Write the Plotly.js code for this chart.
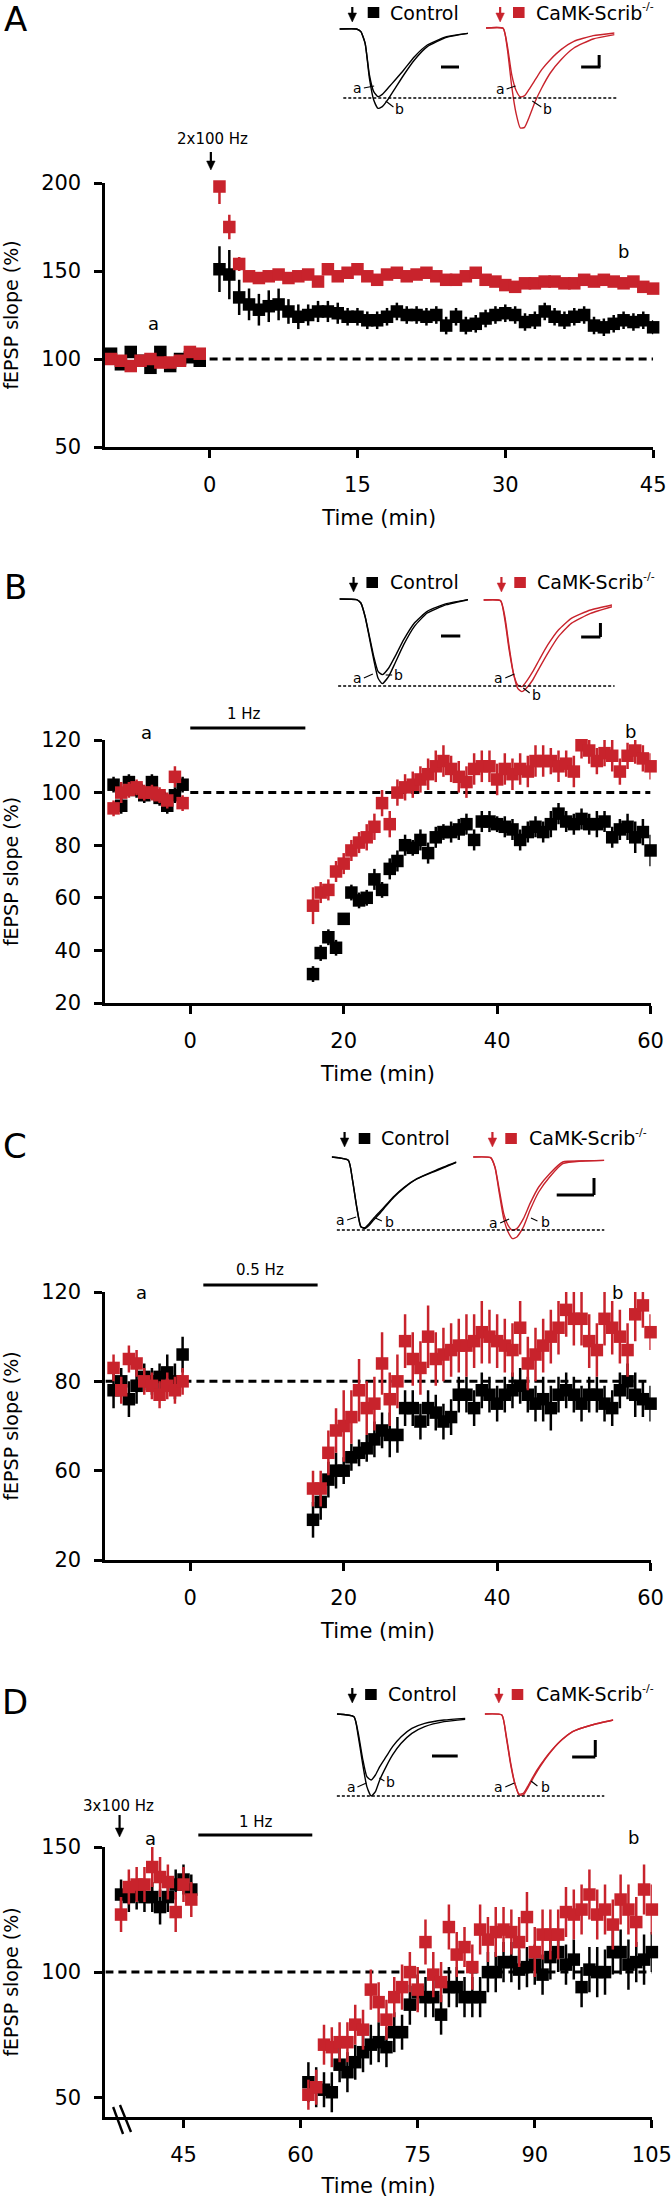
<!DOCTYPE html>
<html><head><meta charset="utf-8">
<script src="https://cdn.plot.ly/plotly-3.0.1.min.js"></script>
<style>html,body{margin:0;padding:0;background:#fff}</style>
</head><body><div id="chart" style="width:672px;height:2198px"></div>
<script>
// ---------------- DATA ----------------
// Panel A: 2x100 Hz LTP
const timeA = [-10,-9,-8,-7,-6,-5,-4,-3,-2,-1,1,2,3,4,5,6,7,8,9,10,11,12,13,14,15,16,17,18,19,20,21,22,23,24,25,26,27,28,29,30,31,32,33,34,35,36,37,38,39,40,41,42,43,44,45];
const controlA = [103,97,104,99,95,104,96,100,101,99,151,148,135,131,128,130,131,127,124,125,127,127,126,124,124,122,122,124,127,125,125,124,125,119,124,119,120,123,125,126,125,121,122,127,124,122,124,125,119,118,120,122,121,122,118];
const controlAErr = [3,3,3,2,3,3,2,2,2,2,13,14,10,9,9,9,9,7,7,6,6,6,6,5,5,5,5,5,5,5,5,5,5,5,5,5,5,5,5,5,5,5,5,5,5,5,5,5,5,5,5,5,5,5,4];
const scribA = [100,99,96,99,100,98,98,99,104,103,198,175,154,147,146,147,148,146,147,148,144,151,147,149,151,147,145,148,149,147,148,149,147,145,145,147,149,145,144,142,141,143,143,144,144,143,143,145,144,145,144,143,144,141,140];
const scribAErr = [3,3,3,3,2,2,2,2,3,3,10,7,4,3,3,3,3,3,3,3,3,3,3,3,3,3,3,3,3,3,3,3,3,3,3,3,3,3,3,3,3,3,3,3,3,3,3,3,3,3,3,3,3,3,3];

// Panel B: 1 Hz LTD
const timeB = [-10,-9,-8,-7,-6,-5,-4,-3,-2,-1,16,17,18,19,20,21,22,23,24,25,26,27,28,29,30,31,32,33,34,35,36,37,38,39,40,41,42,43,44,45,46,47,48,49,50,51,52,53,54,55,56,57,58,59,60];
const controlB = [103,95,104,101,99,104,98,95,99,103,31,39,45,41,52,62,59,60,67,63,71,74,80,79,82,77,83,85,85,86,88,82,89,89,88,87,86,82,85,87,85,88,92,89,88,90,88,88,89,83,86,87,83,85,78];
const controlBErr = [3,3,3,3,3,3,3,3,3,3,3,3,3,3,2,3,3,3,4,3,4,4,4,3,4,4,4,3,4,4,4,4,4,4,3,4,4,4,4,4,4,5,4,4,4,4,4,5,4,4,4,5,6,5,6];
const scribB = [94,100,101,102,100,100,99,97,106,96,57,62,63,70,73,78,81,83,87,96,88,100,102,103,105,107,110,112,109,106,104,109,110,110,105,109,107,109,108,112,112,112,110,111,108,118,116,112,115,114,108,114,116,113,110];
const scribBErr = [3,4,3,3,3,3,3,3,4,3,7,4,4,4,4,4,4,5,5,5,5,5,5,5,5,6,6,6,5,6,6,6,6,6,6,6,6,6,6,6,6,5,6,5,6,5,5,5,5,6,5,5,5,5,5];

// Panel C: 0.5 Hz (tick labels as printed on the figure)
const timeC = [-10,-9,-8,-7,-6,-5,-4,-3,-2,-1,16,17,18,19,20,21,22,23,24,25,26,27,28,29,30,31,32,33,34,35,36,37,38,39,40,41,42,43,44,45,46,47,48,49,50,51,52,53,54,55,56,57,58,59,60];
const controlC = [78,80,76,79,81,80,81,82,80,86,49,53,58,60,60,63,64,65,67,69,68,68,74,74,71,74,73,71,72,77,77,74,78,77,75,77,78,79,77,75,76,74,77,78,77,75,77,77,75,74,78,80,77,76,75];
const controlCErr = [4,3,4,4,3,3,3,4,4,4,4,4,4,4,3,3,3,3,4,4,5,4,4,4,4,4,4,4,4,4,4,4,4,4,4,4,4,4,4,4,5,5,4,4,4,4,4,4,4,4,4,4,5,4,4];
const scribC = [83,78,85,84,80,79,77,79,78,80,56,56,64,69,70,72,78,74,75,84,76,80,89,85,83,90,85,86,87,88,88,89,91,90,89,88,87,92,84,86,88,90,92,96,94,94,89,87,94,92,90,87,95,97,91];
const scribCErr = [3,3,3,3,3,3,3,3,3,3,4,4,5,5,8,6,7,6,6,7,6,6,6,6,6,7,6,6,6,6,7,6,7,6,6,6,6,6,6,6,6,6,6,6,6,6,6,6,6,6,6,6,6,5,4];
const tickValsC = [40,60,80,100];
const tickTextC = ['20','60','80','120'];

// Panel D: 3x100 Hz then 1 Hz
const timeD = [37,38,39,40,41,42,43,44,45,46,61,62,63,64,65,66,67,68,69,70,71,72,73,74,75,76,77,78,79,80,81,82,83,84,85,86,87,88,89,90,91,92,93,94,95,96,97,98,99,100,101,102,103,104,105];
const controlD = [131,130,131,130,130,126,130,135,137,133,56,54,53,52,63,60,64,68,71,72,70,76,76,87,92,90,90,83,94,94,90,90,90,100,100,104,104,101,102,103,99,106,108,103,105,94,101,100,100,108,108,103,104,105,108];
const controlDErr = [6,6,6,6,6,7,6,6,6,6,8,8,7,8,7,8,7,8,8,8,8,8,7,8,7,8,8,8,8,8,8,8,8,8,8,8,8,8,8,8,8,9,8,8,8,8,9,10,9,9,9,10,8,10,8];
const scribD = [123,134,135,135,142,138,136,124,135,129,51,54,71,70,72,72,79,77,93,88,81,90,94,100,93,112,99,96,118,107,110,102,117,113,116,117,116,112,122,108,115,115,115,124,123,125,131,123,125,119,129,125,120,133,125];
const scribDErr = [7,7,7,7,8,8,7,8,7,7,6,7,8,8,8,8,8,8,8,8,8,8,9,8,9,9,9,8,9,9,8,9,10,9,10,9,9,10,10,10,10,10,10,10,10,10,10,10,10,10,10,10,10,10,10];

// Inset fEPSP waveforms (time in ms, amplitude in mV)
const waveT = [0,4,5,6,7,8,9,10,11.5,13,15,17.5,20.5,25,30];
const waveA_ctrl_a = [0,0,-0.08,-0.43,-1.38,-1.88,-2.03,-1.96,-1.75,-1.53,-1.23,-0.83,-0.48,-0.23,-0.13];
const waveA_ctrl_b = [0,0,-0.08,-0.43,-1.48,-2.13,-2.38,-2.33,-2.08,-1.78,-1.38,-0.93,-0.53,-0.25,-0.13];
const waveA_scrib_a = [0,-0.01,-0.55,-1.40,-1.87,-2.07,-2.03,-1.85,-1.55,-1.25,-0.95,-0.65,-0.40,-0.23,-0.15];
const waveA_scrib_b = [0,-0.01,-0.65,-1.75,-2.55,-3.0,-2.98,-2.7,-2.2,-1.8,-1.35,-0.95,-0.6,-0.33,-0.2];
const waveB_ctrl_a = [0,-0.02,-0.12,-0.54,-1.17,-1.82,-2.37,-2.54,-2.32,-1.92,-1.37,-0.82,-0.42,-0.17,-0.02];
const waveB_ctrl_b = [0,-0.02,-0.12,-0.52,-1.12,-1.72,-2.17,-2.27,-2.07,-1.72,-1.22,-0.72,-0.37,-0.14,-0.02];
const waveB_scrib_a = [0,-0.02,-0.6,-1.5,-2.2,-2.55,-2.6,-2.45,-2.15,-1.8,-1.35,-0.9,-0.55,-0.3,-0.15];
const waveB_scrib_b = [0,-0.02,-0.5,-1.4,-2.2,-2.65,-2.75,-2.65,-2.4,-2.05,-1.6,-1.1,-0.7,-0.4,-0.2];
const waveC_ctrl_a = [0,-0.1,-0.7,-1.5,-2.1,-2.12,-2.0,-1.85,-1.65,-1.45,-1.18,-0.9,-0.65,-0.4,-0.15];
const waveC_ctrl_b = [0,-0.1,-0.68,-1.48,-2.08,-2.15,-2.05,-1.9,-1.7,-1.48,-1.2,-0.92,-0.66,-0.42,-0.16];
const waveC_scrib_a = [0,-0.02,-0.3,-1.0,-1.7,-2.05,-2.2,-2.15,-1.85,-1.4,-0.9,-0.5,-0.15,-0.12,-0.1];
const waveC_scrib_b = [0,-0.02,-0.32,-1.1,-1.85,-2.25,-2.45,-2.4,-2.1,-1.6,-1.05,-0.6,-0.2,-0.12,-0.1];
const waveD_ctrl_a = [0,-0.08,-0.68,-1.48,-2.18,-2.46,-2.33,-1.98,-1.58,-1.23,-0.88,-0.58,-0.38,-0.23,-0.16];
const waveD_ctrl_b = [0,-0.08,-0.58,-1.33,-1.88,-1.98,-1.83,-1.58,-1.28,-0.98,-0.68,-0.43,-0.28,-0.18,-0.13];
const waveD_scrib_a = [0,-0.03,-0.68,-1.48,-2.08,-2.4,-2.38,-2.18,-1.83,-1.53,-1.18,-0.83,-0.53,-0.33,-0.18];
const waveD_scrib_b = [0,-0.03,-0.63,-1.43,-2.06,-2.43,-2.43,-2.23,-1.88,-1.56,-1.2,-0.83,-0.53,-0.33,-0.18];

const seriesNames = ['Control', 'CaMK-Scrib'];
const genotypeSup = '-/-';
const xTitle = 'Time (min)', yTitle = 'fEPSP slope (%)';

// ---------------- LAYOUT ----------------
const W = 672, H = 2198;
const XS = 9 / 7;          // horizontal scale of the measured x positions
const FONT = 'DejaVu Sans, Verdana, sans-serif';
const BLACK = '#000000', RED = '#c8232c';
const PX = x => x * XS / W, PY = y => 1 - y / H;

const traces = [];
const layout = {
  width: W, height: H, margin: {l:0, r:0, t:0, b:0},
  paper_bgcolor: '#fff', plot_bgcolor: 'rgba(0,0,0,0)',
  showlegend: false, shapes: [], annotations: []
};
const shapes = layout.shapes, ann = layout.annotations;

function txt(x, y, text, size, o) {
  ann.push(Object.assign({xref:'paper', yref:'paper', x:PX(x), y:PY(y), text:text, showarrow:false,
    font:{family:FONT, size:size, color:'#000'}, xanchor:'center', yanchor:'middle'}, o || {}));
}
function pline(x0, y0, x1, y1, w, color, dash) {
  shapes.push({type:'line', xref:'paper', yref:'paper', x0:PX(x0), y0:PY(y0), x1:PX(x1), y1:PY(y1),
    line:{color:color || '#000', width:w, dash:dash || 'solid'}});
}
function prect(x0, y0, x1, y1, color) {
  shapes.push({type:'rect', xref:'paper', yref:'paper', x0:PX(x0), y0:PY(y1), x1:PX(x1), y1:PY(y0),
    line:{width:0}, fillcolor:color});
}
// down-pointing arrow: shaft + filled head
function arrow(x, yTip, len, color) {
  pline(x, yTip - len, x, yTip - 6, 2.2, color);
  const p = (a, b) => PX(a) + ',' + PY(b);
  shapes.push({type:'path', xref:'paper', yref:'paper', path:'M' + p(x - 3.3, yTip - 9) + ' L' + p(x + 3.3, yTip - 9) + ' L' + p(x, yTip) + ' Z',
    fillcolor:color, line:{color:color, width:0.5}});
}

const mainAx = {showline:true, linecolor:'#000', linewidth:3, ticks:'outside', ticklen:8, tickwidth:3,
  tickcolor:'#000', showgrid:false, zeroline:false, fixedrange:true, automargin:false,
  tickfont:{family:FONT, size:21, color:'#000'}};

const panels = [
  {n:1, t:timeA, c:controlA, ce:controlAErr, s:scribA, se:scribAErr, xr:[-10.57,45], yr:[50,200],
   xd:[82,508], yd:[183,447], xt:[0,15,30,45], yt:[50,100,150,200], base:100, baseFrom:0, letter:'A', ly:19},
  {n:2, t:timeB, c:controlB, ce:controlBErr, s:scribB, se:scribBErr, xr:[-11.06,60], yr:[20,120],
   xd:[82,506], yd:[740,1003], xt:[0,20,40,60], yt:[20,40,60,80,100,120], base:100, baseFrom:0, letter:'B', ly:587},
  {n:3, t:timeC, c:controlC, ce:controlCErr, s:scribC, se:scribCErr, xr:[-11.06,60], yr:[40,100],
   xd:[82,506], yd:[1292,1560], xt:[0,20,40,60], yt:tickValsC, ytext:tickTextC, base:80, baseFrom:-11.06, letter:'C', ly:1146},
  {n:4, t:timeD, c:controlD, ce:controlDErr, s:scribD, se:scribDErr, xr:[35,105], yr:[42.1,150],
   xd:[82,507], yd:[1847,2117], xt:[45,60,75,90,105], yt:[50,100,150], base:100, baseFrom:35, letter:'D', ly:1702}
];

panels.forEach(p => {
  const xa = 'xaxis' + (p.n === 1 ? '' : p.n), ya = 'yaxis' + (p.n === 1 ? '' : p.n);
  const xr = 'x' + (p.n === 1 ? '' : p.n), yr = 'y' + (p.n === 1 ? '' : p.n);
  layout[xa] = Object.assign({}, mainAx, {domain:[PX(p.xd[0]), PX(p.xd[1])], range:p.xr, anchor:yr,
    tickmode:'array', tickvals:p.xt, ticklabelstandoff:9,
    title:{text:xTitle, font:{family:FONT, size:21, color:'#000'}, standoff:15}});
  layout[ya] = Object.assign({}, mainAx, {domain:[PY(p.yd[1]), PY(p.yd[0])], range:p.yr, anchor:xr,
    tickmode:'array', tickvals:p.yt, ticktext:p.ytext || p.yt.map(String), ticklabelstandoff:9,
    title:{text:yTitle, font:{family:FONT, size:19, color:'#000'}, standoff:18}});
  [[p.c, p.ce, BLACK, seriesNames[0]], [p.s, p.se, RED, seriesNames[1] + genotypeSup]].forEach(([v, e, col, nm]) => {
    traces.push({type:'scatter', mode:'markers', name:nm, x:p.t, y:v, xaxis:xr, yaxis:yr, cliponaxis:false,
      marker:{symbol:'square', size:12.5, color:col, line:{width:0}},
      error_y:{type:'data', array:e, visible:true, color:col, thickness:2.5, width:0}});
  });
  shapes.push({type:'line', xref:xr, yref:yr, x0:p.baseFrom, x1:p.xr[1], y0:p.base, y1:p.base, layer:'below',
    line:{color:'#000', width:3, dash:'8px,5px'}});
  txt(12, p.ly, p.letter, 34);
});

// --- insets ---
const insets = [
  {n:5, x:[264,364], base:29, w:[waveA_ctrl_a, waveA_ctrl_b], col:BLACK},
  {n:6, x:[378,478], base:28, w:[waveA_scrib_a, waveA_scrib_b], col:RED},
  {n:7, x:[264,364], base:599, w:[waveB_ctrl_a, waveB_ctrl_b], col:BLACK},
  {n:8, x:[376,476], base:600, w:[waveB_scrib_a, waveB_scrib_b], col:RED},
  {n:9, x:[258,355], base:1157, w:[waveC_ctrl_a, waveC_ctrl_b], col:BLACK},
  {n:10, x:[368,470], base:1157, w:[waveC_scrib_a, waveC_scrib_b], col:RED},
  {n:11, x:[262,362], base:1714, w:[waveD_ctrl_a, waveD_ctrl_b], col:BLACK},
  {n:12, x:[377,477], base:1714, w:[waveD_scrib_a, waveD_scrib_b], col:RED}
];
const UNIT = 33.33; // px per mV in the insets
insets.forEach(s => {
  layout['xaxis' + s.n] = {domain:[PX(s.x[0]), PX(s.x[1])], range:[0,30], visible:false, fixedrange:true, anchor:'y' + s.n};
  layout['yaxis' + s.n] = {domain:[PY(s.base + 3.5 * UNIT), PY(s.base - 0.5 * UNIT)], range:[-3.5,0.5], visible:false, fixedrange:true, anchor:'x' + s.n};
  s.w.forEach(w => traces.push({type:'scatter', mode:'lines', x:waveT, y:w, xaxis:'x' + s.n, yaxis:'y' + s.n,
    line:{color:s.col, width:1.4, shape:'spline', smoothing:0.5}, hoverinfo:'skip'}));
});

// inset dashed peak lines
pline(267, 98, 480, 98, 1.6, '#000', '3px,2px');
pline(263, 686, 478, 686, 1.6, '#000', '3px,2px');
pline(262, 1230, 470, 1230, 1.6, '#000', '3px,2px');
pline(262, 1796, 470, 1796, 1.6, '#000', '3px,2px');

// scale bars
pline(343, 67, 357, 67, 3); pline(452, 67, 467, 67, 3); pline(466, 55, 466, 67, 3);
pline(343, 636, 358, 636, 3); pline(452, 637, 467, 637, 3); pline(467, 623, 467, 637, 3);
pline(433, 1195, 462, 1195, 3); pline(462, 1178, 462, 1195, 3);
pline(336, 1756, 356, 1756, 3); pline(445, 1757, 463, 1757, 3); pline(463, 1740, 463, 1757, 3);

// inset a/b labels with leaders
const insetLabels = [
  [278,88,'a',283,88,291,86],[311,109,'b',300,101,306,107],[389,89,'a',394,89,401,86],[426,109,'b',414,101,421,107],
  [278,678,'a',283,678,290,674],[310,675,'b',300,675,305,675],[388,678,'a',393,678,400,674],[417,695,'b',407,688,412,693],
  [265,1220,'a',270,1220,277,1217],[303,1222,'b',292,1218,297,1221],[384,1223,'a',389,1223,396,1219],[424,1222,'b',413,1218,418,1221],
  [273,1787,'a',278,1787,285,1783],[304,1782,'b',295,1778,299,1781],[388,1787,'a',393,1787,400,1783],[424,1787,'b',413,1781,418,1786]
];
insetLabels.forEach(l => { txt(l[0], l[1], l[2], 14); pline(l[3], l[4], l[5], l[6], 1.1); });

// legends
const legends = [
  {ay:22, ty:12.5, ka:274, ks:[286,295], kt:302, ra:389, rs:[399,408], rt:415, sq:[7,18]},
  {ay:592, ty:582, ka:275, ks:[285,294], kt:302, ra:390, rs:[400,409], rt:416, sq:[577,588]},
  {ay:1147, ty:1138, ka:268, ks:[279,288], kt:295, ra:383, rs:[393,402], rt:410, sq:[1133,1144]},
  {ay:1703, ty:1694, ka:274, ks:[284,293], kt:300, ra:388, rs:[398,407], rt:415, sq:[1689,1700]}
];
legends.forEach(g => {
  arrow(g.ka, g.ay, 15, BLACK); arrow(g.ra, g.ay, 15, RED);
  prect(g.ks[0], g.sq[0], g.ks[1], g.sq[1], BLACK); prect(g.rs[0], g.sq[0], g.rs[1], g.sq[1], RED);
  txt(g.kt, g.ty, seriesNames[0], 19, {xanchor:'left'});
  txt(g.rt, g.ty, seriesNames[1], 19, {xanchor:'left'});
  txt(g.rt + 82.5, g.ty - 6, genotypeSup, 11, {xanchor:'left'});
});

// protocol annotations
txt(165, 139, '2x100 Hz', 15); arrow(164, 170, 18, BLACK);
txt(92, 1806, '3x100 Hz', 15); arrow(93, 1837, 22, BLACK);
txt(190, 714, '1 Hz', 15);
shapes.push({type:'line', xref:'x2', yref:'paper', x0:0, x1:15, y0:PY(728), y1:PY(728), line:{color:'#000', width:3}});
txt(202, 1270, '0.5 Hz', 15);
shapes.push({type:'line', xref:'x3', yref:'paper', x0:1.7, x1:16.6, y0:PY(1285), y1:PY(1285), line:{color:'#000', width:3}});
txt(199, 1822, '1 Hz', 15);
shapes.push({type:'line', xref:'x4', yref:'paper', x0:46.9, x1:61.5, y0:PY(1835), y1:PY(1835), line:{color:'#000', width:3}});

// a / b time-point labels
[[119,323,'a'],[485,252,'b'],[114,732,'a'],[490,731,'b'],[110,1292,'a'],[480,1292,'b'],[117,1838,'a'],[493,1837,'b']]
  .forEach(l => txt(l[0], l[1], l[2], 18));

// axis break on panel D (\\ marks across the x axis)
pline(88, 2107, 95.7, 2134, 2.4); pline(93.3, 2105, 101.9, 2132, 2.4);

Plotly.newPlot('chart', traces, layout, {displayModeBar:false, staticPlot:true});
</script></body></html>
